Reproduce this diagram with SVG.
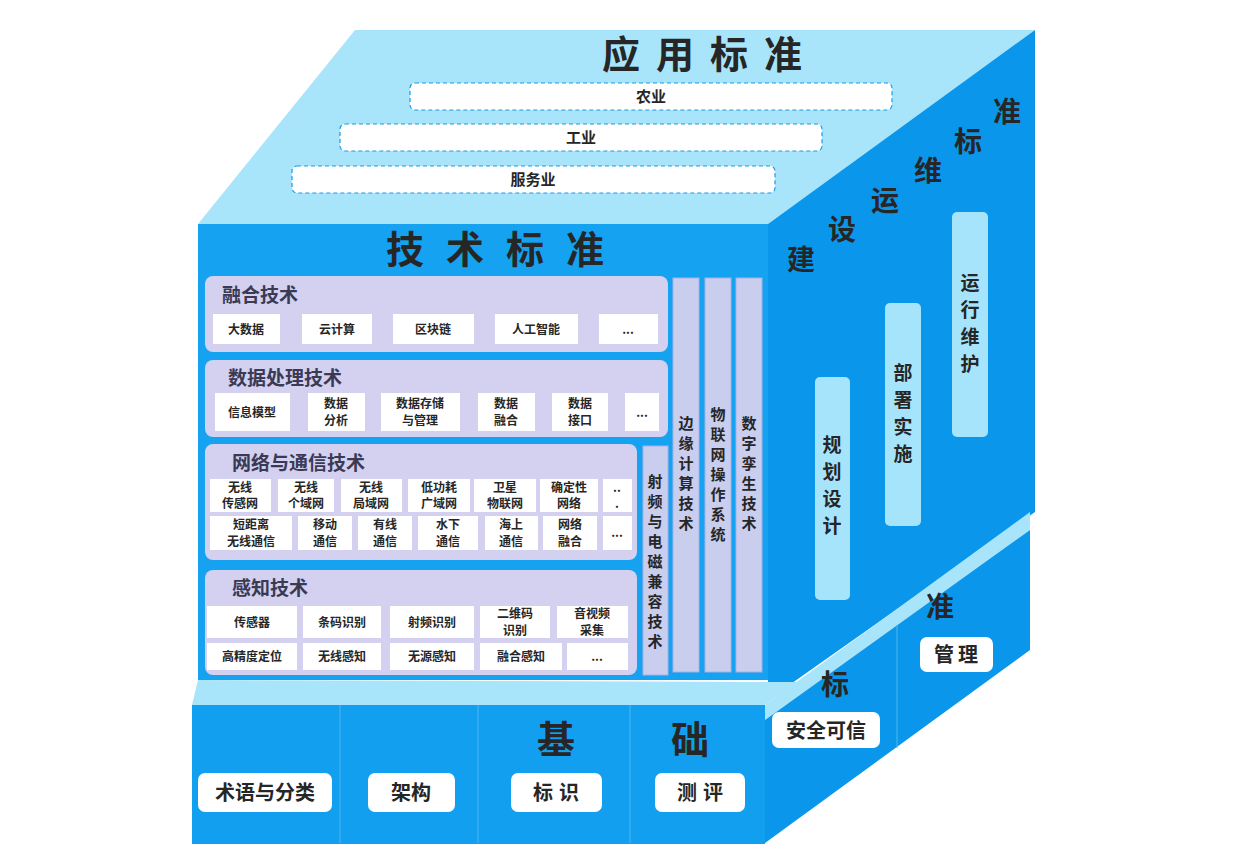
<svg xmlns="http://www.w3.org/2000/svg" width="1246" height="856" viewBox="0 0 1246 856">
<style>
text{font-family:"Noto Sans CJK SC","Liberation Sans",sans-serif;font-weight:bold;fill:#262626;text-anchor:middle}
.big{font-size:38px}
.mid{font-size:28px}
.pt{font-size:19px;text-anchor:start;fill:#3a3a55}
.it{font-size:12px}
.bar{fill:#ffffff;stroke:#1a9ce8;stroke-dasharray:4 3;stroke-width:1.2}
.pan{fill:#d3d0f0}
.wb{fill:#ffffff}
.vb{fill:#c9cdee;stroke:#a9b0e6}
.lb{fill:#a6e4fb}
.vt{font-size:15px}
.rv{font-size:19px}
</style>
<rect width="1246" height="856" fill="#ffffff"/>
<g id="cube">
<polygon points="198,224 768,224 1035,30 355,30" fill="#a8e5fb"/>
<polygon points="768,224 1035,30 1035,512 768,700" fill="#0a96ea"/>
<rect x="198" y="224" width="570" height="456" fill="#14a2f1"/>
<polygon points="192,705 765,705 798,682 198,680" fill="#a8e5fb"/>
<polygon points="765,705 1030,512 1030,530 765,720" fill="#a8e5fb"/>
<rect x="192" y="705" width="573" height="139" fill="#139ff0"/>
<polygon points="765,720 1030,530 1030,650 765,843" fill="#0a96ea"/>
<g stroke="#4fb6f0" stroke-width="1"><line x1="340" y1="705" x2="340" y2="843"/><line x1="478" y1="705" x2="478" y2="843"/><line x1="630" y1="705" x2="630" y2="843"/><line x1="897" y1="625" x2="897" y2="748"/></g>
</g>
<g id="app">
<text class="big" x="710" y="68" letter-spacing="16">应用标准</text>
<rect class="bar" x="410" y="83" width="482" height="27" rx="5"/><text x="651" y="102" font-size="15">农业</text>
<rect class="bar" x="340" y="124" width="482" height="27" rx="5"/><text x="581" y="143" font-size="15">工业</text>
<rect class="bar" x="292" y="166" width="483" height="27" rx="5"/><text x="533" y="185" font-size="15">服务业</text>
</g>
<g id="tech">
<text class="big" x="506" y="263" letter-spacing="22">技术标准</text>
<rect class="pan" x="205" y="276" width="463" height="76" rx="8"/>
<text class="pt" x="222" y="302">融合技术</text>
<rect class="wb" x="213" y="314" width="67" height="30"/><text class="it" x="246" y="334">大数据</text>
<rect class="wb" x="302" y="314" width="70" height="30"/><text class="it" x="337" y="334">云计算</text>
<rect class="wb" x="393" y="314" width="81" height="30"/><text class="it" x="433" y="334">区块链</text>
<rect class="wb" x="495" y="314" width="83" height="30"/><text class="it" x="536" y="334">人工智能</text>
<rect class="wb" x="599" y="314" width="59" height="30"/><text class="it" x="628" y="334">...</text>
<rect class="pan" x="205" y="360" width="463" height="77" rx="8"/>
<text class="pt" x="228" y="385">数据处理技术</text>
<rect class="wb" x="215" y="393" width="75" height="38"/><text class="it" x="252" y="417">信息模型</text>
<rect class="wb" x="308" y="393" width="57" height="38"/><text class="it" x="336" y="408">数据</text><text class="it" x="336" y="425">分析</text>
<rect class="wb" x="381" y="393" width="79" height="38"/><text class="it" x="420" y="408">数据存储</text><text class="it" x="420" y="425">与管理</text>
<rect class="wb" x="478" y="393" width="57" height="38"/><text class="it" x="506" y="408">数据</text><text class="it" x="506" y="425">融合</text>
<rect class="wb" x="552" y="393" width="56" height="38"/><text class="it" x="580" y="408">数据</text><text class="it" x="580" y="425">接口</text>
<rect class="wb" x="625" y="393" width="34" height="38"/><text class="it" x="642" y="417">...</text>
<rect class="pan" x="205" y="444" width="432" height="116" rx="8"/>
<text class="pt" x="232" y="470">网络与通信技术</text>
<rect class="wb" x="210" y="479" width="61" height="33"/><text class="it" x="240" y="492">无线</text><text class="it" x="240" y="508">传感网</text>
<rect class="wb" x="278" y="479" width="56" height="33"/><text class="it" x="306" y="492">无线</text><text class="it" x="306" y="508">个域网</text>
<rect class="wb" x="341" y="479" width="61" height="33"/><text class="it" x="371" y="492">无线</text><text class="it" x="371" y="508">局域网</text>
<rect class="wb" x="408" y="479" width="62" height="33"/><text class="it" x="439" y="492">低功耗</text><text class="it" x="439" y="508">广域网</text>
<rect class="wb" x="474" y="479" width="62" height="33"/><text class="it" x="505" y="492">卫星</text><text class="it" x="505" y="508">物联网</text>
<rect class="wb" x="540" y="479" width="58" height="33"/><text class="it" x="569" y="492">确定性</text><text class="it" x="569" y="508">网络</text>
<rect class="wb" x="603" y="479" width="29" height="33"/><text class="it" x="617" y="492">..</text><text class="it" x="617" y="508">.</text>
<rect class="wb" x="210" y="516" width="82" height="34"/><text class="it" x="251" y="529">短距离</text><text class="it" x="251" y="546">无线通信</text>
<rect class="wb" x="298" y="516" width="54" height="34"/><text class="it" x="325" y="529">移动</text><text class="it" x="325" y="546">通信</text>
<rect class="wb" x="358" y="516" width="54" height="34"/><text class="it" x="385" y="529">有线</text><text class="it" x="385" y="546">通信</text>
<rect class="wb" x="418" y="516" width="60" height="34"/><text class="it" x="448" y="529">水下</text><text class="it" x="448" y="546">通信</text>
<rect class="wb" x="485" y="516" width="53" height="34"/><text class="it" x="511" y="529">海上</text><text class="it" x="511" y="546">通信</text>
<rect class="wb" x="543" y="516" width="54" height="34"/><text class="it" x="570" y="529">网络</text><text class="it" x="570" y="546">融合</text>
<rect class="wb" x="603" y="516" width="29" height="34"/><text class="it" x="617" y="537">...</text>
<rect class="pan" x="205" y="570" width="432" height="105" rx="8"/>
<text class="pt" x="232" y="595">感知技术</text>
<rect class="wb" x="207" y="606" width="90" height="32"/><text class="it" x="252" y="627">传感器</text>
<rect class="wb" x="303" y="606" width="78" height="32"/><text class="it" x="342" y="627">条码识别</text>
<rect class="wb" x="390" y="606" width="84" height="32"/><text class="it" x="432" y="627">射频识别</text>
<rect class="wb" x="480" y="606" width="70" height="32"/><text class="it" x="515" y="618">二维码</text><text class="it" x="515" y="635">识别</text>
<rect class="wb" x="557" y="606" width="71" height="32"/><text class="it" x="592" y="618">音视频</text><text class="it" x="592" y="635">采集</text>
<rect class="wb" x="207" y="643" width="90" height="27"/><text class="it" x="252" y="661">高精度定位</text>
<rect class="wb" x="303" y="643" width="78" height="27"/><text class="it" x="342" y="661">无线感知</text>
<rect class="wb" x="390" y="643" width="84" height="27"/><text class="it" x="432" y="661">无源感知</text>
<rect class="wb" x="480" y="643" width="82" height="27"/><text class="it" x="521" y="661">融合感知</text>
<rect class="wb" x="567" y="643" width="61" height="27"/><text class="it" x="597" y="661">...</text>
<rect class="vb" x="643" y="446" width="25" height="229"/>
<text class="vt"><tspan x="655" y="487">射</tspan><tspan x="655" y="507">频</tspan><tspan x="655" y="527">与</tspan><tspan x="655" y="547">电</tspan><tspan x="655" y="567">磁</tspan><tspan x="655" y="587">兼</tspan><tspan x="655" y="607">容</tspan><tspan x="655" y="627">技</tspan><tspan x="655" y="647">术</tspan></text>
<rect class="vb" x="673" y="278" width="26" height="394"/>
<text class="vt"><tspan x="686" y="429">边</tspan><tspan x="686" y="449">缘</tspan><tspan x="686" y="469">计</tspan><tspan x="686" y="489">算</tspan><tspan x="686" y="509">技</tspan><tspan x="686" y="529">术</tspan></text>
<rect class="vb" x="705" y="278" width="26" height="394"/>
<text class="vt"><tspan x="718" y="420">物</tspan><tspan x="718" y="440">联</tspan><tspan x="718" y="460">网</tspan><tspan x="718" y="480">操</tspan><tspan x="718" y="500">作</tspan><tspan x="718" y="520">系</tspan><tspan x="718" y="540">统</tspan></text>
<rect class="vb" x="736" y="278" width="26" height="394"/>
<text class="vt"><tspan x="749" y="429">数</tspan><tspan x="749" y="449">字</tspan><tspan x="749" y="469">孪</tspan><tspan x="749" y="489">生</tspan><tspan x="749" y="509">技</tspan><tspan x="749" y="529">术</tspan></text>
</g>
<g id="ops">
<text class="mid" x="801" y="270">建</text><text class="mid" x="842" y="240">设</text><text class="mid" x="885" y="211">运</text><text class="mid" x="928" y="181">维</text><text class="mid" x="968" y="152">标</text><text class="mid" x="1007" y="122">准</text>
<rect class="lb" x="815" y="377" width="35" height="223" rx="5"/>
<text class="rv"><tspan x="832" y="452">规</tspan><tspan x="832" y="479">划</tspan><tspan x="832" y="506">设</tspan><tspan x="832" y="533">计</tspan></text>
<rect class="lb" x="885" y="303" width="36" height="223" rx="5"/>
<text class="rv"><tspan x="903" y="380">部</tspan><tspan x="903" y="407">署</tspan><tspan x="903" y="434">实</tspan><tspan x="903" y="461">施</tspan></text>
<rect class="lb" x="952" y="212" width="36" height="225" rx="5"/>
<text class="rv"><tspan x="970" y="290">运</tspan><tspan x="970" y="317">行</tspan><tspan x="970" y="344">维</tspan><tspan x="970" y="371">护</tspan></text>
</g>
<g id="mgmt">
<text class="mid" x="835" y="695">标</text><text class="mid" x="940" y="617">准</text>
<rect class="wb" x="772" y="712" width="108" height="36" rx="7"/><text font-size="20" x="826" y="738">安全可信</text>
<rect class="wb" x="920" y="637" width="73" height="35" rx="7"/><text font-size="20" x="958" y="662" letter-spacing="4">管理</text>
</g>
<g id="base">
<text class="big" x="556" y="753">基</text><text class="big" x="690" y="753">础</text>
<rect class="wb" x="198" y="773" width="134" height="39" rx="7"/><text font-size="20" x="265" y="800">术语与分类</text>
<rect class="wb" x="368" y="773" width="87" height="39" rx="7"/><text font-size="20" x="411" y="800">架构</text>
<rect class="wb" x="511" y="773" width="91" height="39" rx="7"/><text font-size="20" x="559" y="800" letter-spacing="6">标识</text>
<rect class="wb" x="655" y="773" width="90" height="39" rx="7"/><text font-size="20" x="703" y="800" letter-spacing="6">测评</text>
</g>
</svg>
